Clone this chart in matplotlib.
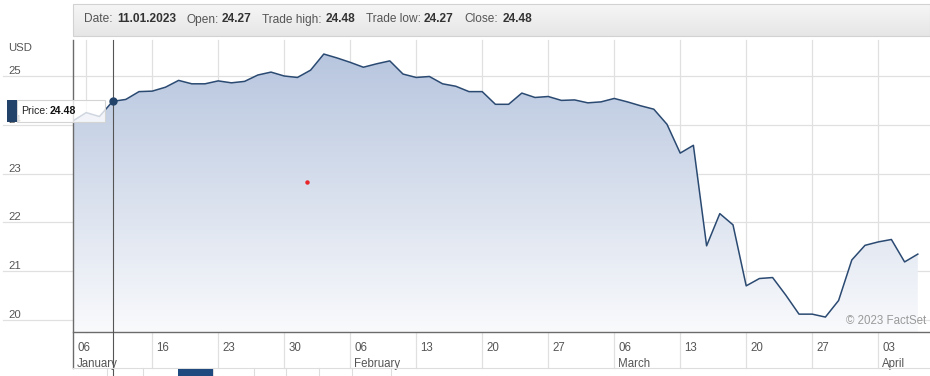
import numpy as np
import pandas as pd
import matplotlib
matplotlib.use("Agg")
import matplotlib.pyplot as plt
from matplotlib.patches import Rectangle
import matplotlib.transforms as mtransforms

plt.rcParams['font.family'] = ['Liberation Sans', 'DejaVu Sans']

# ---------------- data ----------------
start_date = "2023-01-06"
end_date = "2023-04-06"
prices = [24.08, 24.25, 24.17, 24.48, 24.52, 24.68, 24.69, 24.77, 24.91, 24.84,
          24.84, 24.90, 24.86, 24.89, 25.02, 25.08, 25.00, 24.97, 25.12, 25.45,
          25.37, 25.28, 25.18, 25.25, 25.31, 25.04, 24.97, 24.99, 24.84, 24.79,
          24.68, 24.68, 24.42, 24.42, 24.65, 24.56, 24.58, 24.50, 24.51, 24.45,
          24.47, 24.54, 24.47, 24.39, 24.32, 24.01, 23.42, 23.58, 21.52, 22.18,
          21.95, 20.70, 20.85, 20.87, 20.51, 20.12, 20.12, 20.06, 20.40, 21.23,
          21.53, 21.60, 21.65, 21.19, 21.35]
y_ticks = [20, 21, 22, 23, 24, 25]
currency = "USD"
tick_dates = ["2023-01-06", "2023-01-16", "2023-01-23", "2023-01-30", "2023-02-06",
              "2023-02-13", "2023-02-20", "2023-02-27", "2023-03-06", "2023-03-13",
              "2023-03-20", "2023-03-27", "2023-04-03"]
tick_labels = ["06", "16", "23", "30", "06", "13", "20", "27", "06", "13", "20", "27", "03"]
month_dates = ["2023-01-06", "2023-02-06", "2023-03-06", "2023-04-03"]
month_labels = ["January", "February", "March", "April"]
cursor_date = "2023-01-11"
cursor_open = 24.27
cursor_high = 24.48
cursor_low = 24.27
event_point_x = 17.7
event_point_y = 22.83
copyright_text = "\u00a9 2023 FactSet"

dates = pd.bdate_range(start_date, end_date)
idx = np.arange(len(dates))
cursor_i = dates.get_loc(pd.Timestamp(cursor_date))
cursor_price = prices[cursor_i]
grid_idx = idx[dates.weekday == 0]
tick_idx = [dates.get_loc(pd.Timestamp(d)) for d in tick_dates]
month_idx = [dates.get_loc(pd.Timestamp(d)) for d in month_dates]

# ---------------- figure ----------------
W, H = 930, 376
fig = plt.figure(figsize=(W / 100, H / 100), dpi=100)
fig.patch.set_facecolor("white")

L, R, T, B = 73, 930, 40, 332
ax = fig.add_axes([L / W, (H - B) / H, (R - L) / W, (B - T) / H])
ax.set_facecolor("white")
ppu = 48.8
ax.set_xlim(0, (R - L) / 13.2)
ax.set_ylim(25 - (B - 76) / ppu, 25 + (76 - T) / ppu)
for s in ["top", "right", "left"]:
    ax.spines[s].set_visible(False)
ax.spines["bottom"].set_color("#6b6b6b")
ax.spines["bottom"].set_linewidth(1.0)
ax.set_xticks([])
ax.set_yticks([])

grid_c = "#e0e0e0"
ext_left = (3 - L) / (R - L)
for v in y_ticks:
    ax.axhline(v, xmin=ext_left, xmax=1, color=grid_c, lw=0.9, clip_on=False, zorder=0)

band_bottom = -(368 - B) / (B - T)
for i in grid_idx:
    lo = band_bottom if i in tick_idx else 0
    ax.axvline(i, ymin=lo, ymax=1, color=grid_c, lw=0.9, clip_on=False, zorder=0)
ax.axvline(0, ymin=band_bottom, ymax=1, color="#6b6b6b", lw=1.0, clip_on=False, zorder=3)

# gradient area
ylo, yhi = ax.get_ylim()
poly = ax.fill_between(idx, prices, ylo, facecolor="none", edgecolor="none")
top_c = np.array([180, 195, 221]) / 255
bot_c = np.array([249, 250, 252]) / 255
t = np.linspace(0, 1, 256)[:, None]
grad = (top_c[None, :] * (1 - t) + bot_c[None, :] * t)[:, None, :]
im = ax.imshow(grad, extent=[0, idx[-1], ylo, yhi], aspect="auto", origin="upper", zorder=1)
im.set_clip_path(poly.get_paths()[0], transform=ax.transData)
ax.plot(idx, prices, color="#2b4a72", lw=1.1, zorder=2, solid_joinstyle="round")

# event red dot
ax.plot(event_point_x, event_point_y, "o", color="#e8262a", ms=3.2, mec="none", zorder=3)

# cursor
ax.axvline(cursor_i, ymin=-(376 - B) / (B - T), ymax=1, color="#555555", lw=0.8,
           clip_on=False, zorder=4)
ax.plot(cursor_i, cursor_price, "o", color="#23426a", ms=5, zorder=5)

# y labels
ytr = mtransforms.offset_copy(ax.get_yaxis_transform(), fig=fig, x=0, y=2, units="dots")
for v in y_ticks:
    ax.text((8 - L) / (R - L), v, str(v), transform=ytr, ha="left", va="baseline",
            fontsize=8.2, color="#555555", clip_on=False)
ax.text((8 - L) / (R - L), 1 - (51 - T) / (B - T), currency, transform=ax.transAxes,
        ha="left", va="baseline", fontsize=8.2, color="#555555")

# x labels
xtr = mtransforms.offset_copy(ax.get_xaxis_transform(), fig=fig, x=4, y=0, units="dots")
for i, lab in zip(tick_idx, tick_labels):
    ax.text(i, -(348 - B) / (B - T), lab, transform=xtr, ha="left", va="center",
            fontsize=8.3, color="#555555", clip_on=False)
for i, lab in zip(month_idx, month_labels):
    ax.text(i, -(364 - B) / (B - T), lab, transform=xtr, ha="left", va="center",
            fontsize=8.3, color="#555555", clip_on=False)

# ---------------- overlay (pixel coords) ----------------
ov = fig.add_axes([0, 0, 1, 1], zorder=10)
ov.set_xlim(0, W)
ov.set_ylim(H, 0)
ov.axis("off")
ov.patch.set_alpha(0)

# header box
hg = np.linspace(0, 1, 64)[:, None]
hcol = (np.array([246, 246, 246]) * (1 - hg) + np.array([230, 230, 230]) * hg) / 255
ov.imshow(hcol[:, None, :], extent=[73, 930, 36, 4], aspect="auto", zorder=1)
ov.add_patch(Rectangle((73, 4), 857, 32, facecolor="none", edgecolor="#d2d2d2", lw=0.8, zorder=2))
hdr = [("Date:", 84, False), (cursor_date[8:10] + "." + cursor_date[5:7] + "." + cursor_date[0:4], 117, True),
       ("Open:", 186, False), (f"{cursor_open:.2f}", 222, True),
       ("Trade high:", 262, False), (f"{cursor_high:.2f}", 326, True),
       ("Trade low:", 366, False), (f"{cursor_low:.2f}", 424, True),
       ("Close:", 464, False), (f"{cursor_price:.2f}", 503, True)]
for txt, x, bold in hdr:
    ov.text(x, 19.5, txt, ha="left", va="center", fontsize=8.6,
            fontweight="bold" if bold else "normal", color="#333333" if bold else "#555555", zorder=3)

# tooltip
ov.add_patch(Rectangle((17, 100), 88, 22, facecolor="white", alpha=0.78, edgecolor="none", zorder=4))
ov.add_patch(Rectangle((17, 100), 88, 22, facecolor="none", edgecolor="#d4d4d4", lw=0.8, zorder=5))
ov.add_patch(Rectangle((7, 100), 10, 22, facecolor="#23426a", edgecolor="none", zorder=5))
ov.text(21, 111, "Price:", ha="left", va="center", fontsize=7.6, color="#222222", zorder=6)
ov.text(50, 111, f"{cursor_price:.2f}", ha="left", va="center", fontsize=7.6,
        fontweight="bold", color="#111111", zorder=6)

# copyright
ov.text(926, 321, copyright_text, ha="right", va="center", fontsize=8.3, color="#9a9a9a", zorder=3)

# navigator strip (partial)
ov.plot([73, 930], [368, 368], color="#dddddd", lw=0.8)
for xs in [107, 143, 178, 213, 254, 286, 319, 352, 391]:
    ov.plot([xs, xs], [368, 376], color="#dddddd", lw=0.8)
ov.add_patch(Rectangle((178, 369), 35, 7, facecolor="#1f4a80", edgecolor="none", zorder=3))

fig.savefig("out.png", dpi=100)
